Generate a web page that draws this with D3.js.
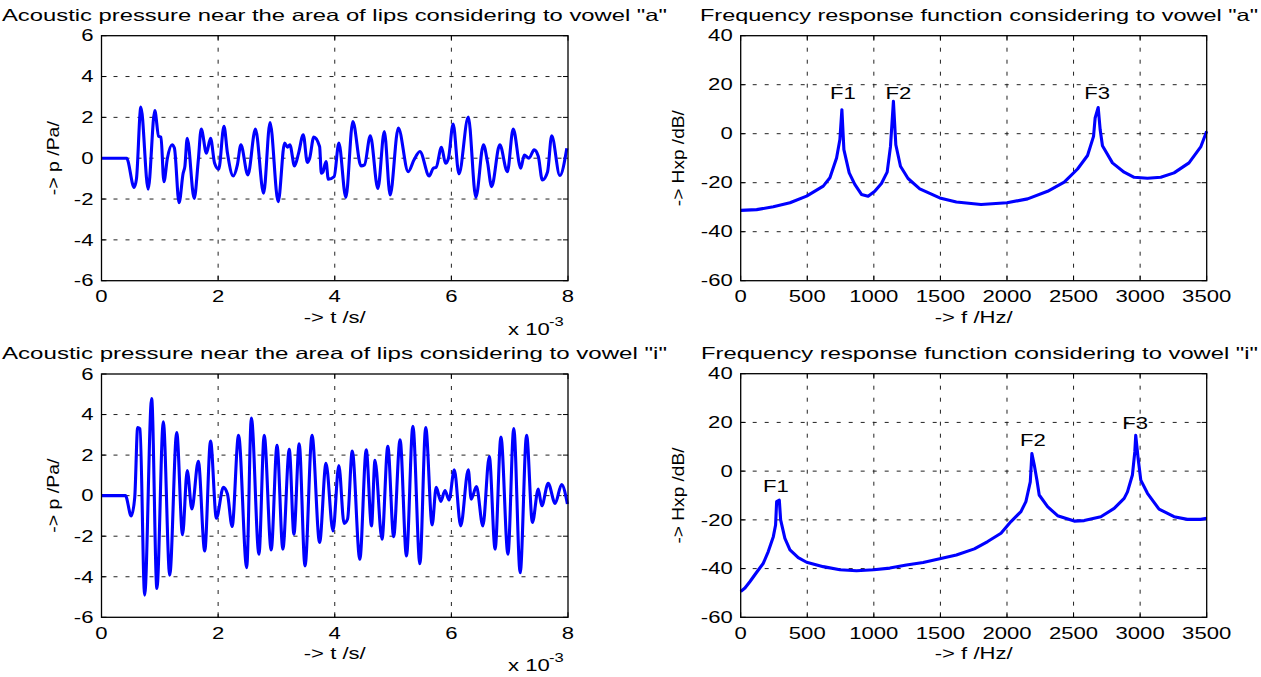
<!DOCTYPE html>
<html>
<head>
<meta charset="utf-8">
<script src="https://cdn.jsdelivr.net/npm/d3@7"></script>
<style>
  body { margin: 0; background: #fff; }
  text { font-family: "Liberation Sans", Arial, sans-serif; fill: #000; }
</style>
</head>
<body>
<svg id="chart" width="1261" height="677"></svg>
<script>
// ---- data ----
// time axis in units of 10^-3 s
const timeTicks = [0, 2, 4, 6, 8];
const pressTicks = [-6, -4, -2, 0, 2, 4, 6];
const freqTicks = [0, 500, 1000, 1500, 2000, 2500, 3000, 3500];
const dbTicks = [-60, -40, -20, 0, 20, 40];

const timeA = [0, 0.43, 0.56, 0.60, 0.675, 0.80, 0.914, 0.98, 1.02, 1.07, 1.13, 1.21, 1.25, 1.33, 1.40, 1.43, 1.47, 1.59, 1.66, 1.71, 1.80, 1.87, 1.94, 2.01, 2.10, 2.16, 2.26, 2.33, 2.39, 2.51, 2.64, 2.78, 2.89, 3.03, 3.14, 3.19, 3.23, 3.31, 3.38, 3.46, 3.53, 3.57, 3.64, 3.74, 3.77, 3.80, 3.85, 3.89, 3.99, 4.07, 4.19, 4.31, 4.45, 4.51, 4.61, 4.74, 4.85, 4.95, 5.09, 5.26, 5.36, 5.46, 5.62, 5.69, 5.74, 5.83, 5.90, 5.95, 6.03, 6.13, 6.29, 6.42, 6.55, 6.62, 6.69, 6.83, 6.96, 7.06, 7.19, 7.25, 7.33, 7.42, 7.49, 7.56, 7.65, 7.72, 7.86, 7.98];
const pressA = [0, 0, -1.43, -1.0, 2.5, -1.52, 2.33, 1.07, 1.03, -1.15, 0, 0.66, 0.5, -2.18, -0.74, -0.4, 0.98, -1.97, -0.1, 1.43, 0.25, 0.98, -0.25, -0.54, 1.56, 0.25, -0.87, -0.33, 0.66, -0.82, 1.43, -1.72, 1.75, -2.13, 0.74, 0.54, 0.66, -0.38, 0.25, 1.15, -0.21, 0, 1.03, 0.57, -0.74, -0.66, -0.16, -1.03, -0.9, 0.74, -1.92, 1.80, -0.38, -0.33, 1.10, -1.48, 1.31, -1.80, 1.48, -0.66, -0.08, 0.33, -0.87, -0.49, -0.44, 0.54, -0.25, 0, 1.67, -0.77, 2.02, -1.92, 0.66, -0.2, -1.39, 0.66, -0.66, 1.43, -0.49, 0.16, 0, 0.41, 0.1, -1.07, -0.66, 1.10, -0.85, 0.49];

const timeI = [0, 0.41, 0.51, 0.57, 0.62, 0.66, 0.74, 0.86, 0.95, 1.06, 1.17, 1.29, 1.39, 1.47, 1.55, 1.66, 1.77, 1.87, 1.97, 2.09, 2.16, 2.24, 2.35, 2.49, 2.57, 2.70, 2.79, 2.91, 3.01, 3.11, 3.22, 3.30, 3.39, 3.49, 3.61, 3.74, 3.85, 3.97, 4.07, 4.16, 4.22, 4.30, 4.43, 4.54, 4.63, 4.69, 4.81, 4.91, 5.01, 5.12, 5.23, 5.34, 5.46, 5.56, 5.67, 5.74, 5.82, 5.89, 5.96, 6.05, 6.16, 6.29, 6.34, 6.43, 6.54, 6.65, 6.75, 6.85, 6.97, 7.07, 7.18, 7.29, 7.39, 7.49, 7.55, 7.66, 7.78, 7.89, 7.99];
const pressI = [0, 0, -1.0, -0.08, 3.36, 3.3, -4.91, 4.79, -4.58, 3.64, -3.92, 3.11, -1.93, 1.24, -0.66, 1.70, -2.73, 2.69, -1.11, 0.41, 0.08, -1.52, 2.98, -3.55, 3.83, -2.89, 2.98, -2.68, 2.48, -2.64, 2.28, -1.90, 2.56, -3.47, 2.98, -2.31, 1.60, -1.74, 1.49, -1.37, -1.15, 2.20, -3.14, 2.26, -1.49, 1.74, -2.15, 2.43, -2.02, 2.76, -2.98, 3.42, -3.36, 3.36, -1.44, 0.41, -0.28, 0.25, -0.21, 1.27, -1.49, 1.27, -0.17, 0.45, -1.49, 1.93, -2.64, 2.89, -2.89, 3.31, -3.80, 2.98, -1.32, 0.33, -0.50, 0.61, -0.38, 0.55, -0.41];

const freqA = [0, 120, 245, 370, 495, 620, 670, 720, 745, 760, 775, 815, 857, 907, 957, 1007, 1057, 1100, 1125, 1147, 1165, 1200, 1257, 1345, 1495, 1620, 1805, 2000, 2155, 2305, 2430, 2530, 2605, 2650, 2662, 2685, 2700, 2717, 2792, 2880, 2955, 3055, 3155, 3255, 3367, 3455, 3500];
const hxpA = [-31.3, -31.0, -29.8, -28.2, -25.5, -21.4, -18, -9.9, -2.4, 9.8, -6.5, -16, -20.7, -24.8, -25.5, -23.5, -20.3, -15.7, -5.2, 13.2, -4.5, -13.3, -18.3, -22.5, -26.2, -27.9, -28.9, -28.2, -26.6, -23.5, -19.8, -14.4, -8.9, -1.1, 6.4, 10.7, 1.6, -4.9, -11.9, -15.7, -17.8, -18.2, -17.8, -16, -11.9, -5.4, 1];

const freqI = [0, 32, 70, 120, 170, 207, 245, 262, 270, 290, 300, 332, 370, 432, 495, 620, 745, 870, 1000, 1120, 1245, 1370, 1495, 1620, 1755, 1855, 1955, 2030, 2105, 2142, 2175, 2187, 2205, 2225, 2242, 2305, 2380, 2505, 2580, 2705, 2805, 2880, 2905, 2942, 2960, 2967, 2985, 3005, 3055, 3142, 3255, 3355, 3455, 3500];
const hxpI = [-49.4, -48, -45.3, -41.5, -37.8, -33, -26.9, -22.1, -12.5, -11.9, -20, -27.6, -32.3, -35.5, -37.4, -39.2, -40.5, -40.9, -40.5, -39.8, -38.5, -37.5, -36, -34.4, -31.9, -28.9, -25.5, -20.7, -16.6, -12.5, -4.4, 7.2, 2.5, -3.7, -9.8, -14.6, -18.3, -20.5, -20.3, -18.7, -15.3, -11.2, -8.5, -1.6, 7.9, 14.7, 5.2, -3.7, -9.1, -15.6, -18.7, -19.8, -19.8, -19.4];

// formant labels (position in data units)
const formantNames = ["F1", "F2", "F3"];
const formantFreqA = [768, 1184, 2677];
const formantDbA = [14, 14, 14];
const formantFreqI = [265, 2195, 2962];
const formantDbI = [-8.5, 10.4, 17.3];

const svg = d3.select("#chart");
const K = 1.38; // the reference is stretched horizontally

function stretch(sel, k) {
    sel.each(function() {
        const w = this.getComputedTextLength();
        d3.select(this).attr("textLength", w * k).attr("lengthAdjust", "spacingAndGlyphs");
    });
}

function drawPanel(p) {
    const x = d3.scaleLinear().domain(p.xDomain).range([p.left, p.right]);
    const y = d3.scaleLinear().domain(p.yDomain).range([p.bottom, p.top]);
    const g = svg.append("g");

    // dashed grid
    g.append("g").selectAll("line")
        .data(p.xTicks.slice(1, -1))
        .join("line")
        .attr("x1", d => x(d)).attr("x2", d => x(d))
        .attr("y1", p.top).attr("y2", p.bottom)
        .attr("stroke", "#222").attr("stroke-width", 1).attr("stroke-dasharray", "4,8");
    g.append("g").selectAll("line")
        .data(p.yTicks.slice(1, -1))
        .join("line")
        .attr("x1", p.left).attr("x2", p.right)
        .attr("y1", d => y(d)).attr("y2", d => y(d))
        .attr("stroke", "#222").attr("stroke-width", 1).attr("stroke-dasharray", "4,8");

    // inward ticks on all sides
    const tl = 5;
    p.xTicks.forEach(d => {
        g.append("line").attr("x1", x(d)).attr("x2", x(d)).attr("y1", p.bottom).attr("y2", p.bottom - tl).attr("stroke", "#000");
        g.append("line").attr("x1", x(d)).attr("x2", x(d)).attr("y1", p.top).attr("y2", p.top + tl).attr("stroke", "#000");
    });
    p.yTicks.forEach(d => {
        g.append("line").attr("x1", p.left).attr("x2", p.left + tl).attr("y1", y(d)).attr("y2", y(d)).attr("stroke", "#000");
        g.append("line").attr("x1", p.right).attr("x2", p.right - tl).attr("y1", y(d)).attr("y2", y(d)).attr("stroke", "#000");
    });

    // the curve
    const pts = p.xs.map((v, i) => [v, p.ys[i]]);
    g.append("path")
        .datum(pts)
        .attr("fill", "none")
        .attr("stroke", "#0000ff")
        .attr("stroke-width", 3.1)
        .attr("stroke-linejoin", "round")
        .attr("d", d3.line().x(d => x(d[0])).y(d => y(d[1])).curve(p.curve));

    // box
    g.append("rect")
        .attr("x", p.left).attr("y", p.top)
        .attr("width", p.right - p.left).attr("height", p.bottom - p.top)
        .attr("fill", "none").attr("stroke", "#000").attr("stroke-width", 1.3);

    // tick labels
    const xl = g.append("g").selectAll("text")
        .data(p.xTicks).join("text")
        .attr("x", d => x(d)).attr("y", p.bottom + 21.5)
        .attr("text-anchor", "middle").style("font-size", "16px")
        .text(d => d);
    stretch(xl, K);
    const yl = g.append("g").selectAll("text")
        .data(p.yTicks).join("text")
        .attr("x", p.left - 8).attr("y", d => y(d)).attr("dy", "0.36em")
        .attr("text-anchor", "end").style("font-size", "16px")
        .text(d => d);
    stretch(yl, K);

    // title
    g.append("text")
        .attr("x", p.titleX).attr("y", p.top - 15)
        .style("font-size", "16.5px")
        .attr("textLength", p.titleW).attr("lengthAdjust", "spacingAndGlyphs")
        .text(p.title);

    // axis labels
    const xlab = g.append("text")
        .attr("x", (p.left + p.right) / 2).attr("y", p.bottom + 42)
        .attr("text-anchor", "middle").style("font-size", "16px")
        .text(p.xlabel);
    stretch(xlab, K);
    g.append("text")
        .attr("transform", `translate(${p.ylabelX},${(p.top + p.bottom) / 2}) rotate(-90)`)
        .attr("text-anchor", "middle").style("font-size", "17px")
        .attr("textLength", p.ylabelW).attr("lengthAdjust", "spacingAndGlyphs")
        .text(p.ylabel);

    if (p.exponent) {
        const e = g.append("text")
            .attr("x", p.right - 60).attr("y", p.bottom + 54)
            .style("font-size", "16px").text("x 10");
        stretch(e, K);
        const s = g.append("text")
            .attr("x", p.right - 19).attr("y", p.bottom + 45)
            .style("font-size", "12px").text("-3");
        stretch(s, K);
    }

    if (p.labelF) {
        const lab = g.append("g").selectAll("text")
            .data(formantNames).join("text")
            .attr("x", (d, i) => x(p.labelF[i]))
            .attr("y", (d, i) => y(p.labelDb[i]))
            .attr("text-anchor", "middle").style("font-size", "16px")
            .text(d => d);
        stretch(lab, K);
    }
}

drawPanel({
    left: 101.5, right: 568, top: 35.7, bottom: 280.7,
    xDomain: [0, 8], yDomain: [-6, 6], xTicks: timeTicks, yTicks: pressTicks,
    xs: timeA, ys: pressA, curve: d3.curveMonotoneX,
    title: 'Acoustic pressure near the area of lips considering to vowel "a"', titleX: 2, titleW: 665,
    xlabel: "-> t /s/", ylabel: "-> p /Pa/", ylabelX: 59, ylabelW: 74, exponent: true
});
drawPanel({
    left: 101.5, right: 568, top: 374, bottom: 617.3,
    xDomain: [0, 8], yDomain: [-6, 6], xTicks: timeTicks, yTicks: pressTicks,
    xs: timeI, ys: pressI, curve: d3.curveMonotoneX,
    title: 'Acoustic pressure near the area of lips considering to vowel "i"', titleX: 2, titleW: 665,
    xlabel: "-> t /s/", ylabel: "-> p /Pa/", ylabelX: 59, ylabelW: 74, exponent: true
});
drawPanel({
    left: 740.7, right: 1206.7, top: 35.7, bottom: 280.7,
    xDomain: [0, 3500], yDomain: [-60, 40], xTicks: freqTicks, yTicks: dbTicks,
    xs: freqA, ys: hxpA, curve: d3.curveLinear,
    title: 'Frequency response function considering to vowel "a"', titleX: 700, titleW: 558,
    xlabel: "-> f /Hz/", ylabel: "-> Hxp /dB/", ylabelX: 684, ylabelW: 96,
    labelF: formantFreqA, labelDb: formantDbA
});
drawPanel({
    left: 740.7, right: 1206.7, top: 373.7, bottom: 617.3,
    xDomain: [0, 3500], yDomain: [-60, 40], xTicks: freqTicks, yTicks: dbTicks,
    xs: freqI, ys: hxpI, curve: d3.curveLinear,
    title: 'Frequency response function considering to vowel "i"', titleX: 701, titleW: 557,
    xlabel: "-> f /Hz/", ylabel: "-> Hxp /dB/", ylabelX: 684, ylabelW: 96,
    labelF: formantFreqI, labelDb: formantDbI
});
</script>
</body>
</html>
